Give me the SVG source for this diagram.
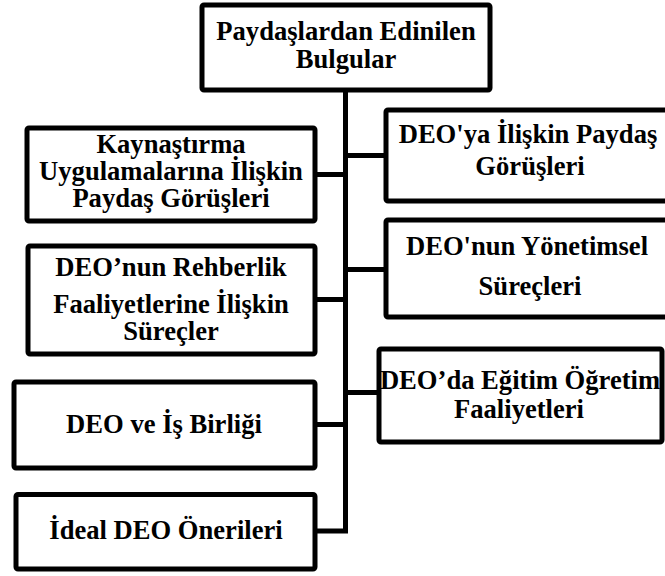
<svg xmlns="http://www.w3.org/2000/svg" width="665" height="576" viewBox="0 0 665 576">
  <style>
    .box { fill: #ffffff; stroke: #000000; stroke-width: 5; stroke-linejoin: round; }
    .wire { fill: none; stroke: #000000; stroke-width: 5; stroke-linejoin: miter; }
    .lbl { font-family: "Liberation Serif", "Times New Roman", serif; font-weight: bold; font-size: 26.6px; fill: #000000; text-anchor: middle; }
  </style>

  <!-- connectors: central trunk with branches to each box -->
  <g id="connectors">
    <path class="wire" d="M345.5 90 V531 H315"/>
    <path class="wire" d="M345.5 155.5 H386"/>
    <path class="wire" d="M345.5 174.5 H315"/>
    <path class="wire" d="M345.5 269.5 H386"/>
    <path class="wire" d="M345.5 299.5 H315"/>
    <path class="wire" d="M345.5 392.5 H379"/>
    <path class="wire" d="M345.5 424.5 H315"/>
  </g>

  <g id="root">
    <rect class="box" x="202" y="5" width="288" height="85" rx="2"/>
    <text class="lbl" x="346" y="40">Paydaşlardan Edinilen</text>
    <text class="lbl" x="346" y="68">Bulgular</text>
  </g>

  <g id="kaynastirma">
    <rect class="box" x="27" y="128" width="288" height="93" rx="2"/>
    <text class="lbl" x="171" y="153">Kaynaştırma</text>
    <text class="lbl" x="171" y="180">Uygulamalarına İlişkin</text>
    <text class="lbl" x="171" y="207">Paydaş Görüşleri</text>
  </g>

  <g id="deo-gorusleri">
    <rect class="box" x="386" y="110" width="284" height="91" rx="2"/>
    <text class="lbl" x="528" y="143">DEO'ya İlişkin Paydaş</text>
    <text class="lbl" x="530" y="175">Görüşleri</text>
  </g>

  <g id="rehberlik">
    <rect class="box" x="28" y="246" width="287" height="108" rx="2"/>
    <text class="lbl" x="171" y="276">DEO’nun Rehberlik</text>
    <text class="lbl" x="171" y="313">Faaliyetlerine İlişkin</text>
    <text class="lbl" x="171" y="340">Süreçler</text>
  </g>

  <g id="yonetimsel">
    <rect class="box" x="386" y="220" width="284" height="97" rx="2"/>
    <text class="lbl" x="527" y="255">DEO'nun Yönetimsel</text>
    <text class="lbl" x="530" y="295">Süreçleri</text>
  </g>

  <g id="egitim-ogretim">
    <rect class="box" x="379" y="349" width="283" height="93" rx="2"/>
    <text class="lbl" x="520" y="389">DEO’da Eğitim Öğretim</text>
    <text class="lbl" x="519" y="418">Faaliyetleri</text>
  </g>

  <g id="is-birligi">
    <rect class="box" x="14" y="382" width="301" height="86" rx="2"/>
    <text class="lbl" x="164" y="433">DEO ve İş Birliği</text>
  </g>

  <g id="ideal-deo">
    <rect class="box" x="16" y="494.5" width="299" height="74.5" rx="2"/>
    <text class="lbl" x="166" y="539">İdeal DEO Önerileri</text>
  </g>
</svg>
